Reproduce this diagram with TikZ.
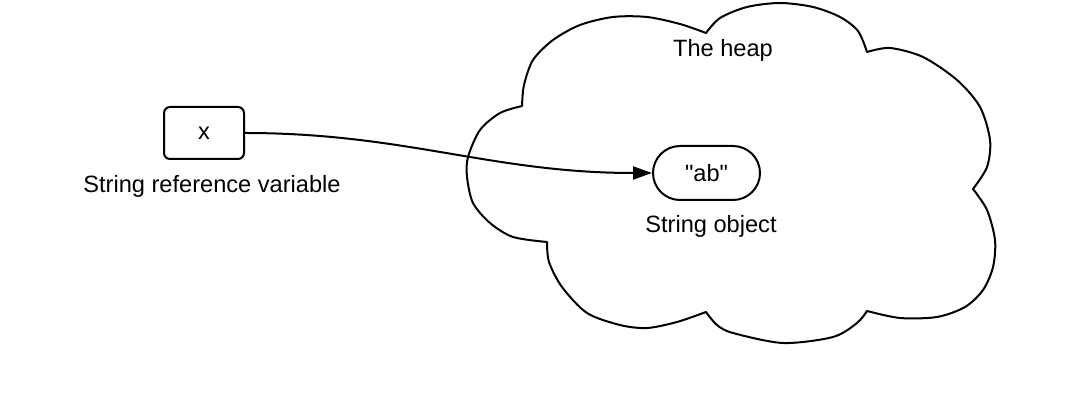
\documentclass[tikz,border=0pt]{standalone}
\usepackage{fontspec}
\setmainfont{Liberation Sans}[Ligatures=TeXOff]
\usetikzlibrary{arrows.meta,shapes.misc}
\begin{document}
\begin{tikzpicture}[x=0.5pt,y=-0.5pt,
  line width=1pt,
  lbl/.style={font=\fontsize{11.8pt}{14pt}\selectfont, inner sep=0pt},
  varbox/.style={draw, rounded corners=3pt, minimum width=40pt, minimum height=26pt, inner sep=0pt, font=\fontsize{11.8pt}{14pt}\selectfont},
  objbox/.style={draw, rounded rectangle, minimum width=53.5pt, minimum height=27pt, inner sep=0pt, font=\fontsize{11.8pt}{14pt}\selectfont},
  cloudline/.style={line width=1pt, line join=round}]
\useasboundingbox (0,0) rectangle (1080,410);
% cloud
\draw[cloudline]
  plot[smooth] coordinates {(522,106) (524,85) (533,60) (553,40) (580,25) (613,17) (647,17) (680,24) (706,33)}
  -- plot[smooth] coordinates {(706,33) (720,18) (747,7) (780,3) (813,7) (840,17) (858,31) (867,52)}
  -- plot[smooth] coordinates {(867,52) (890,48) (923,57) (957,80) (980,107) (990,140) (987,167) (973,189)}
  -- plot[smooth] coordinates {(973,189) (987,210) (995,240) (993,267) (983,290) (965,307) (937,317) (900,318) (867,311)}
  -- plot[smooth] coordinates {(867,311) (857,323) (833,337) (783,343) (733,333) (717,325) (706,312)}
  -- plot[smooth] coordinates {(706,312) (677,322) (647,328) (620,325) (587,313) (562,287) (549,262) (547,242)}
  -- plot[smooth] coordinates {(547,242) (513,237) (490,223) (473,203) (467,177) (468,157) (480,130) (500,113) (522,106)}
  -- cycle;
\node[varbox] (x) at (204,133) {x};
\node[lbl] (xl) at (212,186) {String reference variable};
\node[objbox] (ab) at (706.5,173) {"ab"};
\node[lbl] (abl) at (711,226) {String object};
\node[lbl] (heap) at (723,50) {The heap};
\draw[-{Triangle[length=9.5pt,width=6.5pt]}] (x.east) to[out=0,in=180] (ab.west);
\end{tikzpicture}
\end{document}
